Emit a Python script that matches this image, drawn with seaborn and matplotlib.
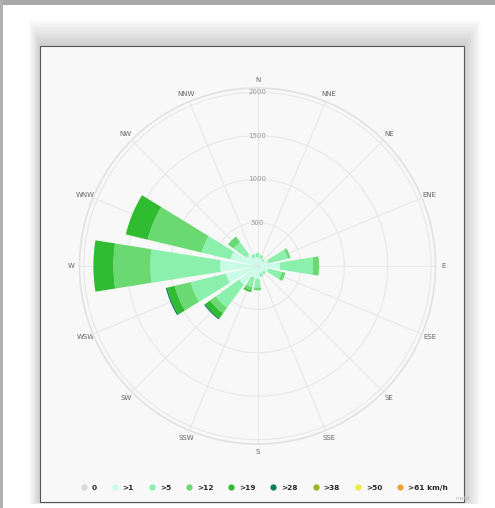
import numpy as np
import seaborn as sns
import matplotlib.pyplot as plt
from matplotlib.patches import Rectangle
from matplotlib.lines import Line2D

# Wind rose data (hours per direction and speed class)
directions = ["N", "NNE", "NE", "ENE", "E", "ESE", "SE", "SSE",
              "S", "SSW", "SW", "WSW", "W", "WNW", "NW", "NNW"]
speed_bins = ["0", ">1", ">5", ">12", ">19", ">28", ">38", ">50", ">61 km/h"]
freq_0 = [10, 10, 10, 10, 10, 10, 10, 10, 10, 10, 15, 15, 20, 15, 10, 10]
freq_1 = [90, 80, 70, 120, 250, 120, 80, 80, 140, 130, 250, 360, 410, 305, 150, 90]
freq_5 = [50, 40, 20, 230, 380, 160, 30, 40, 100, 110, 330, 415, 805, 340, 180, 40]
freq_12 = [0, 0, 0, 30, 70, 40, 0, 0, 30, 40, 80, 190, 425, 640, 80, 0]
freq_19 = [0, 0, 0, 0, 0, 0, 0, 0, 0, 20, 70, 90, 230, 260, 0, 0]
freq_28 = [0, 0, 0, 0, 0, 0, 0, 0, 0, 0, 15, 15, 0, 0, 0, 0]
freq_38 = [0] * 16
freq_50 = [0] * 16
freq_61 = [0] * 16
radial_ticks = [500, 1000, 1500, 2000]

series = [freq_0, freq_1, freq_5, freq_12, freq_19, freq_28, freq_38, freq_50, freq_61]
colors = ["#d9d9d9", "#c8fbe8", "#8af0ac", "#6ad972", "#30bc30",
          "#0e7d5a", "#9cb31c", "#f0ec3c", "#f0a23a"]

sns.set_theme(style="white")
W, H = 495, 508
fig = plt.figure(figsize=(W / 100, H / 100), dpi=100)
fig.patch.set_facecolor("white")

def px_rect(x0, y0, x1, y1, **kw):
    r = Rectangle((x0 / W, 1 - y1 / H), (x1 - x0) / W, (y1 - y0) / H,
                  transform=fig.transFigure, zorder=-5, **kw)
    fig.add_artist(r)

# screenshot frame: gray strips and soft shadow around the chart box
px_rect(0, 0, W, 5, facecolor="#a8a8a8", edgecolor="none")
px_rect(0, 0, 3, H, facecolor="#b0b0b0", edgecolor="none")
for i in range(12):
    g = 12 - i
    px_rect(40 - g * 0.9, 46 - g * 2.2, 464 + g * 1.4, 502 + g * 0.2,
            facecolor="#000000", alpha=0.016, edgecolor="none")
px_rect(40, 46, 464, 502, facecolor="#f8f8f8", edgecolor="#555555", linewidth=0.8)

# polar axes
cx, cy, rad = 257.5, 266, 178
ax = fig.add_axes([(cx - rad) / W, (H - cy - rad) / H, 2 * rad / W, 2 * rad / H],
                  projection="polar")
ax.set_facecolor("none")
ax.set_theta_zero_location("N")
ax.set_theta_direction(-1)

theta = np.arange(len(directions)) * 2 * np.pi / len(directions)
width = 2 * np.pi / len(directions) * 0.8
bottom = np.zeros(len(directions))
for vals, col in zip(series, colors):
    vals = np.array(vals, dtype=float)
    ax.bar(theta, vals, width=width, bottom=bottom, color=col, edgecolor="none",
           zorder=3)
    bottom += vals

ax.set_ylim(0, 2050)
ax.set_yticks(radial_ticks)
ax.set_yticklabels([])
for r in radial_ticks:
    ax.text(0, r, str(r), ha="center", va="center", fontsize=5, color="#999999",
            zorder=2)
ax.set_xticks(theta)
ax.set_xticklabels(directions)
ax.tick_params(axis="x", pad=-7, labelsize=5, colors="#666666")
ax.grid(True, color="#e8e8e8", linewidth=0.8)
ax.spines["polar"].set_color("#e2e2e2")
ax.spines["polar"].set_linewidth(1.2)

# legend
handles = [Line2D([], [], marker="o", linestyle="", markersize=4.5,
                  markerfacecolor=c, markeredgecolor="none") for c in colors]
fig.legend(handles, speed_bins, loc="center", bbox_to_anchor=(262 / W, 1 - 488 / H),
           ncol=9, frameon=False, handletextpad=0.1,
           columnspacing=1.4, prop={"weight": "bold", "size": 5.3})
fig.text(455 / W, 1 - 499 / H, "mete", fontsize=4, color="#bbbbbb",
         ha="left", va="center")

fig.savefig("out.png", dpi=100, facecolor="white")
